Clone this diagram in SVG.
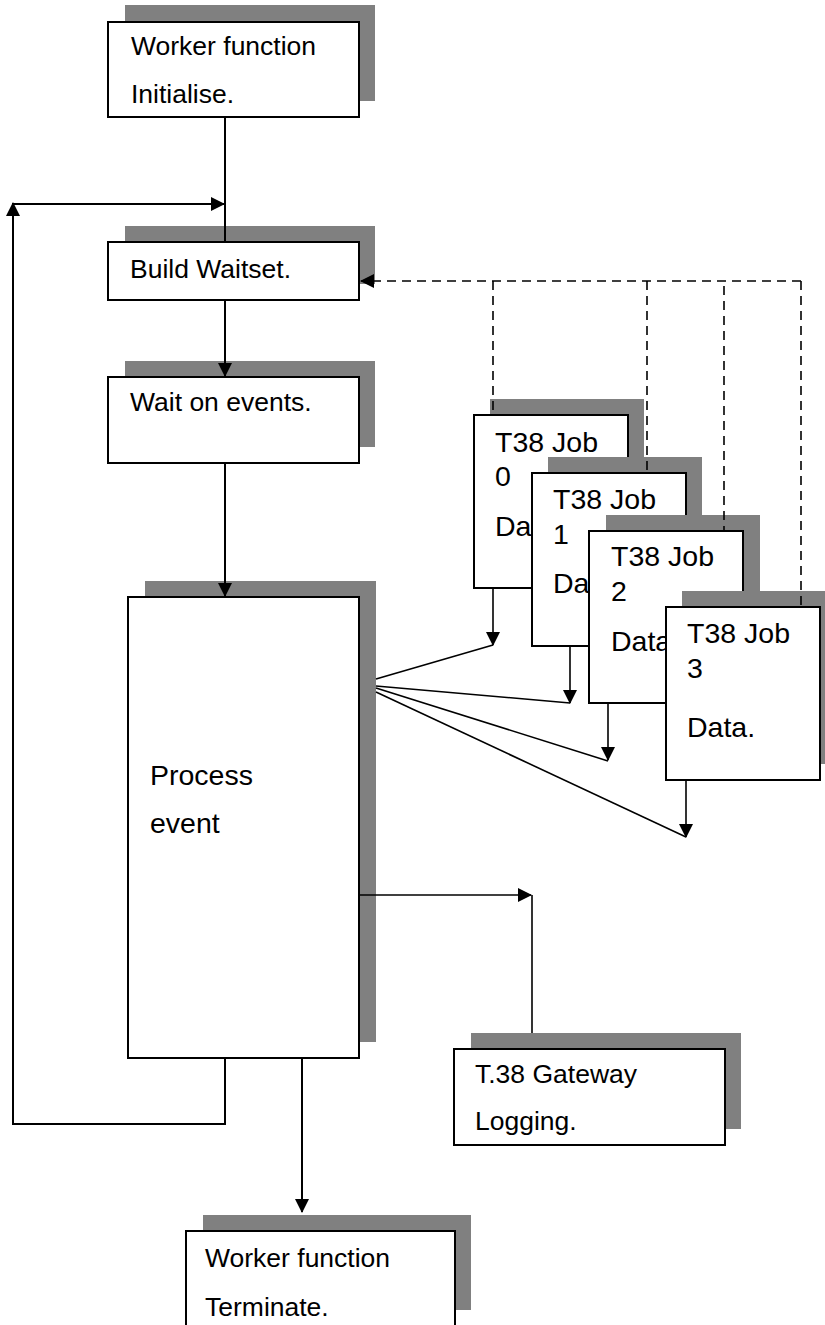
<svg xmlns="http://www.w3.org/2000/svg" width="825" height="1325" viewBox="0 0 825 1325">
<style>
.sh{fill:#808080;stroke:none}
.bx{fill:#fff;stroke:#000;stroke-width:2}
.t{font-family:"Liberation Sans",Arial,sans-serif;font-size:26.5px;fill:#000}
.tj{font-family:"Liberation Sans",Arial,sans-serif;font-size:28.5px;fill:#000}
.ln{fill:none;stroke:#000;stroke-width:2}
.fn{fill:none;stroke:#000;stroke-width:1.6}
.ds{fill:none;stroke:#000;stroke-width:1.6;stroke-dasharray:9 6}
</style>
<defs>
<marker id="ah" viewBox="0 0 14 14" refX="13" refY="7" markerWidth="14" markerHeight="14" markerUnits="userSpaceOnUse" orient="auto"><path d="M0,0 L14,7 L0,14 z" fill="#000"/></marker>
</defs>
<rect width="825" height="1325" fill="#fff"/>

<g id="init">
<rect class="sh" x="125" y="5" width="250" height="96"/>
<rect class="bx" x="108" y="22" width="251" height="95"/>
<text class="t" x="131" y="55">Worker function</text>
<text class="t" x="131" y="103">Initialise.</text>
</g>

<g id="build">
<rect class="sh" x="125" y="226" width="250" height="58"/>
<rect class="bx" x="108" y="242" width="251" height="58"/>
<text class="t" x="130" y="278">Build Waitset.</text>
</g>

<g id="wait">
<rect class="sh" x="125" y="361" width="250" height="86"/>
<rect class="bx" x="108" y="377" width="251" height="86"/>
<text class="t" x="130" y="411">Wait on events.</text>
</g>

<g id="process">
<rect class="sh" x="145" y="581" width="231" height="461"/>
<rect class="bx" x="128" y="597" width="231" height="461"/>
<text class="tj" x="150" y="785">Process</text>
<text class="tj" x="150" y="833">event</text>
</g>

<g id="job0">
<rect class="sh" x="490" y="399" width="154" height="173"/>
<rect class="bx" x="474" y="415" width="154" height="173"/>
<text class="tj" x="495" y="452">T38 Job</text>
<text class="tj" x="495" y="486">0</text>
<text class="tj" x="495" y="536">Da</text>
</g>

<g id="job1">
<rect class="sh" x="548" y="457" width="154" height="173"/>
<rect class="bx" x="532" y="473" width="154" height="173"/>
<text class="tj" x="553" y="509">T38 Job</text>
<text class="tj" x="553" y="544">1</text>
<text class="tj" x="553" y="593">Da</text>
</g>

<g id="job2">
<rect class="sh" x="606" y="515" width="154" height="172"/>
<rect class="bx" x="589" y="531" width="154" height="172"/>
<text class="tj" x="611" y="566">T38 Job</text>
<text class="tj" x="611" y="601">2</text>
<text class="tj" x="611" y="651">Data.</text>
</g>

<g id="job3">
<rect class="sh" x="682" y="591" width="154" height="173"/>
<rect class="bx" x="666" y="607" width="154" height="173"/>
<text class="tj" x="687" y="643">T38 Job</text>
<text class="tj" x="687" y="678">3</text>
<text class="tj" x="687" y="737">Data.</text>
</g>

<g id="logging">
<rect class="sh" x="471" y="1033" width="270" height="96"/>
<rect class="bx" x="454" y="1049" width="271" height="96"/>
<text class="t" x="475" y="1083">T.38 Gateway</text>
<text class="t" x="475" y="1130">Logging.</text>
</g>

<g id="terminate">
<rect class="sh" x="203" y="1215" width="268" height="95"/>
<rect class="bx" x="186" y="1231" width="269" height="96"/>
<text class="t" x="205" y="1267">Worker function</text>
<text class="t" x="205" y="1316">Terminate.</text>
</g>

<g id="connectors">
<line class="ln" x1="225" y1="117" x2="225" y2="242"/>
<line class="ln" x1="225" y1="300" x2="225" y2="376" marker-end="url(#ah)"/>
<line class="ln" x1="225" y1="463" x2="225" y2="596" marker-end="url(#ah)"/>
<polyline class="ln" points="225,1058 225,1124 13,1124 13,203" marker-end="url(#ah)"/>
<line class="ln" x1="13" y1="204" x2="224" y2="204" marker-end="url(#ah)"/>
<line class="ln" x1="302" y1="1058" x2="302" y2="1212" marker-end="url(#ah)"/>
<line class="fn" x1="359" y1="895" x2="531" y2="895" marker-end="url(#ah)"/>
<line class="fn" x1="532" y1="895" x2="532" y2="1033"/>
<line class="ds" x1="801" y1="281" x2="361" y2="281" marker-end="url(#ah)"/>
<line class="ds" x1="493" y1="281" x2="493" y2="415"/>
<line class="ds" x1="647" y1="281" x2="647" y2="473"/>
<line class="ds" x1="724" y1="286" x2="724" y2="531"/>
<line class="ds" x1="801" y1="281" x2="801" y2="607"/>
<line class="fn" x1="493" y1="588" x2="493" y2="645" marker-end="url(#ah)"/>
<line class="fn" x1="570" y1="646" x2="570" y2="703" marker-end="url(#ah)"/>
<line class="fn" x1="608" y1="703" x2="608" y2="760" marker-end="url(#ah)"/>
<line class="fn" x1="686" y1="780" x2="686" y2="837" marker-end="url(#ah)"/>
<line class="fn" x1="376" y1="679" x2="493" y2="645"/>
<line class="fn" x1="376" y1="686" x2="570" y2="703"/>
<line class="fn" x1="376" y1="688" x2="608" y2="761"/>
<line class="fn" x1="376" y1="692" x2="686" y2="837"/>
</g>
</svg>
